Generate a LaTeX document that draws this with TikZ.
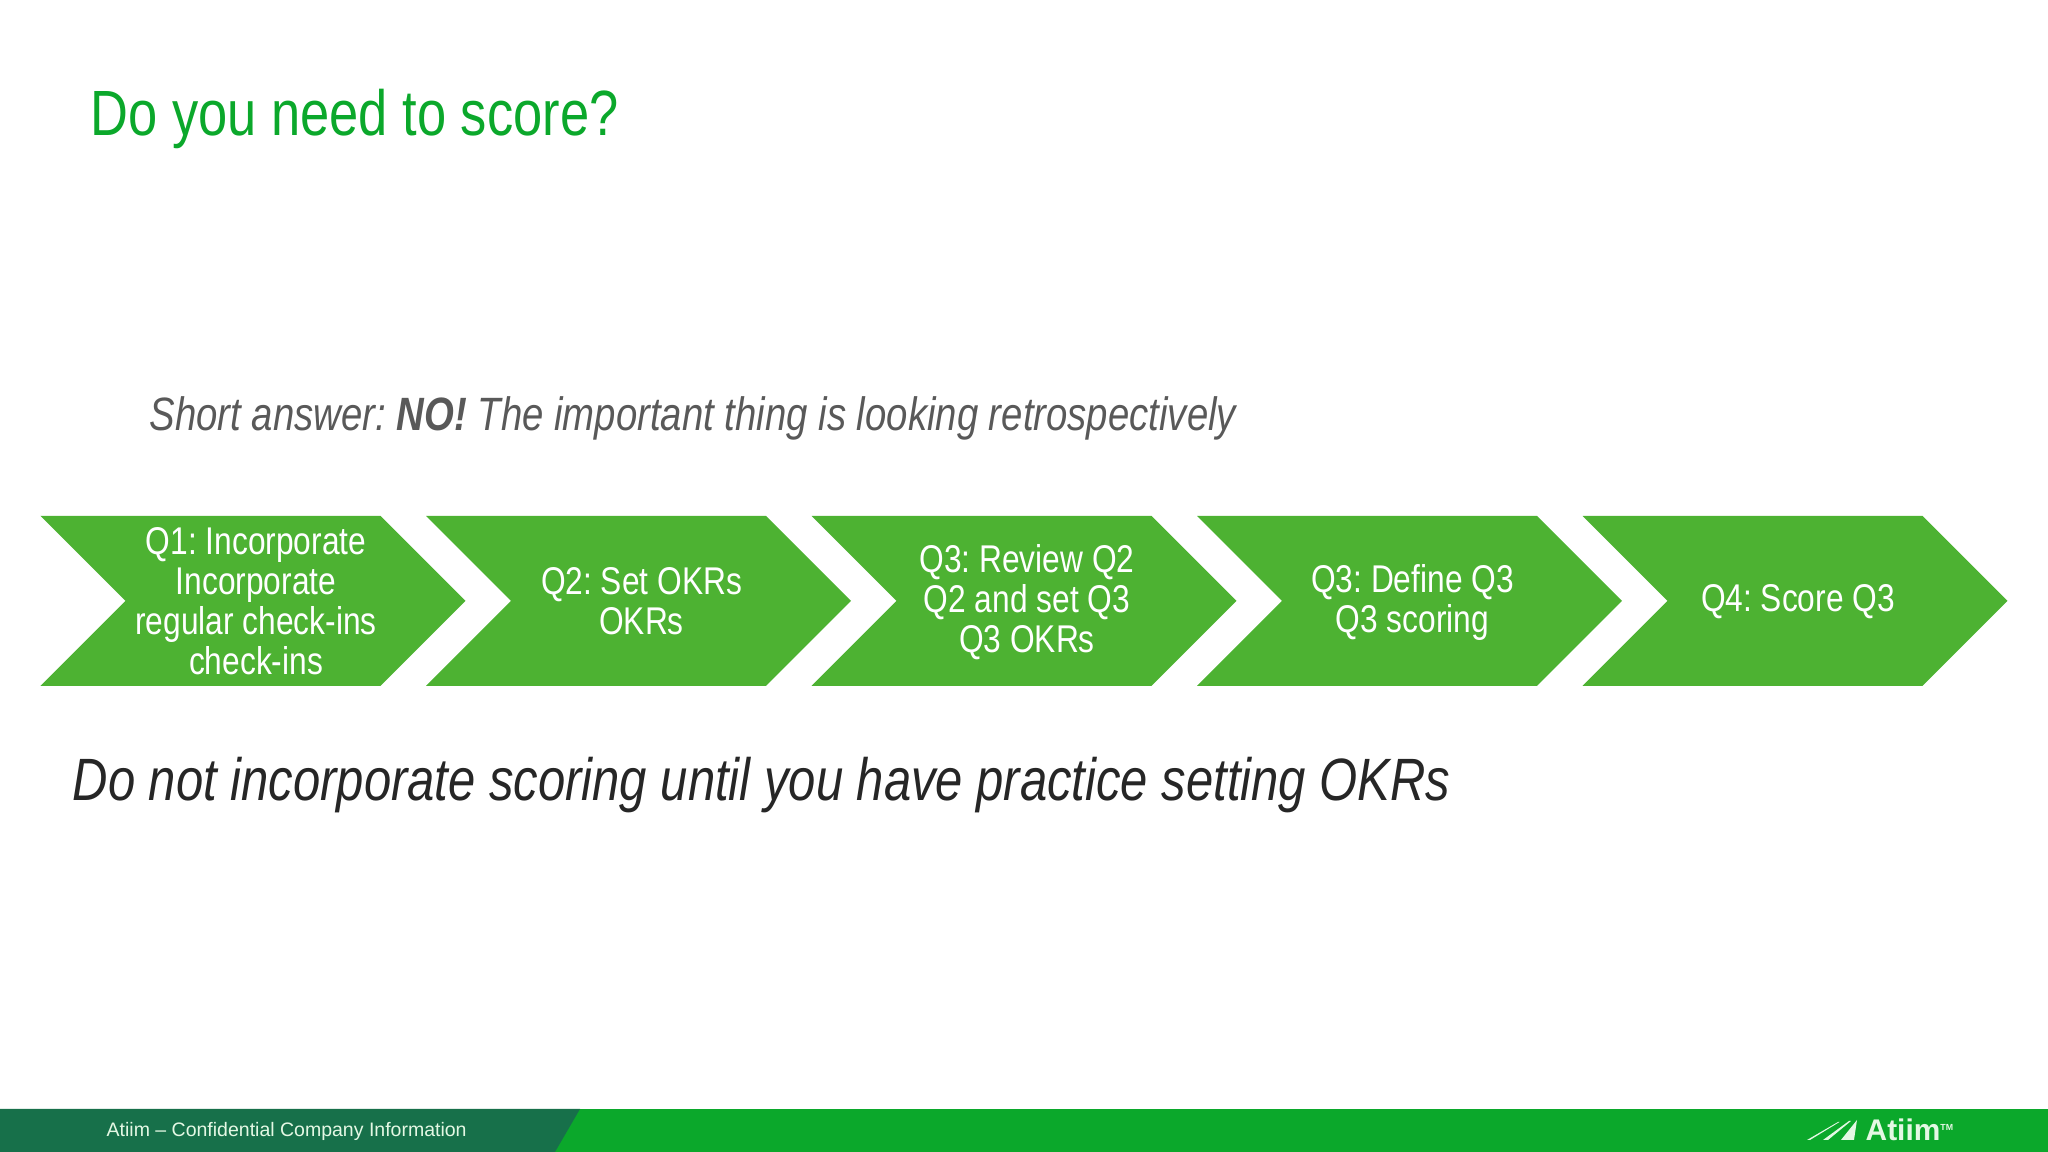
\documentclass[tikz,border=0pt]{standalone}
\usepackage{fontspec}
\setmainfont{Liberation Sans}[FakeStretch=0.82]
\newfontfamily\barfont{Liberation Sans}
\usetikzlibrary{shapes,shapes.symbols,calc}
\definecolor{titlegreen}{HTML}{0BA82B}
\definecolor{chevgreen}{HTML}{4DB232}
\definecolor{darkbar}{HTML}{17704A}
\definecolor{subgrey}{HTML}{595959}
\definecolor{logotext}{HTML}{E4F8E4}
\tikzset{
    chevron/.style={signal, signal from=west, signal to=east, signal pointer angle=90, fill=chevgreen,
        minimum width=4.25cm, minimum height=1.7cm, inner sep=0pt, outer sep=0pt},
    qtext/.style={text=white, align=center, inner sep=0pt, font=\fontsize{11}{11.35}\selectfont},
    heading/.style={anchor=west, inner sep=0pt}
}
\frenchspacing
\begin{document}
\begin{tikzpicture}
    \useasboundingbox (0,0) rectangle (20.48,11.52);
    \draw (0.90,10.33) node[heading, text=titlegreen, font=\fontsize{18.2}{20}\selectfont] (title) {Do you need to score?};
    \draw (1.49,7.34) node[heading, text=subgrey, font=\fontsize{13.3}{14}\selectfont\itshape] (answer) {Short answer: \textbf{NO!} The important thing is looking retrospectively};
    \draw (2.53,5.51) node[chevron] (q1) {};
    \draw (6.385,5.51) node[chevron] (q2) {};
    \draw (10.24,5.51) node[chevron] (q3) {};
    \draw (14.095,5.51) node[chevron] (q3b) {};
    \draw (17.95,5.51) node[chevron] (q4) {};
    \draw ($(q1)+(0.03,0)$) node[qtext] (q1text) {Q1: Incorporate\\Incorporate\\regular check-ins\\check-ins};
    \draw ($(q2)+(0.03,0)$) node[qtext] (q2text) {Q2: Set OKRs\\OKRs};
    \draw ($(q3)+(0.03,-0.015)$) node[qtext] (q3text) {Q3: Review Q2\\Q2 and set Q3\\Q3 OKRs};
    \draw ($(q3b)+(0.03,-0.015)$) node[qtext] (q3btext) {Q3: Define Q3\\Q3 scoring};
    \draw ($(q4)+(0.03,-0.01)$) node[qtext] (q4text) {Q4: Score Q3};
    \draw (0.72,3.67) node[heading, text=black!85, font=\fontsize{17}{18}\selectfont\itshape] (advice) {Do not incorporate scoring until you have practice setting OKRs};
    % footer bar
    \fill[titlegreen] (0,0) rectangle (20.48,0.43);
    \fill[darkbar] (0,0) -- (0,0.43) -- (5.8,0.43) -- (5.55,0) -- cycle;
    \draw (1.06,0.21) node[heading, text=logotext, font=\barfont\fontsize{5.55}{7}\selectfont] (footer) {Atiim – Confidential Company Information};
    \draw (18.65,0.22) node[heading, text=logotext, font=\barfont\fontsize{8.5}{10}\selectfont\bfseries] (logo) {Atiim\raisebox{3pt}{\fontsize{2.5}{3}\selectfont TM}};
    \fill[logotext] (18.07,0.12) -- (18.38,0.30) -- (18.395,0.30) -- (18.10,0.12) -- cycle;
    \fill[logotext] (18.23,0.12) -- (18.49,0.31) -- (18.51,0.31) -- (18.28,0.12) -- cycle;
    \fill[logotext] (18.41,0.12) -- (18.57,0.32) -- (18.54,0.12) -- cycle;
\end{tikzpicture}
\end{document}
